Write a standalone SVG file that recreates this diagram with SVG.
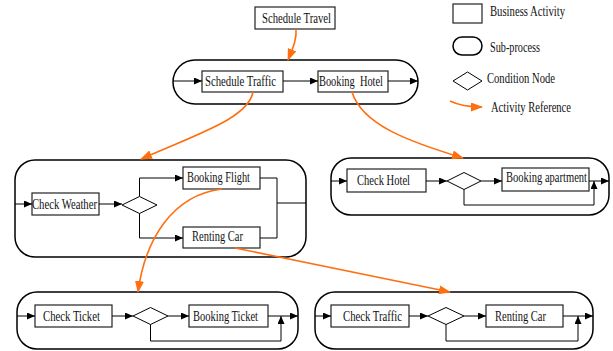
<svg xmlns="http://www.w3.org/2000/svg" width="613" height="351" viewBox="0 0 613 351">
  <defs>
    <marker id="arr" viewBox="0 0 8 7" refX="8" refY="3.5" markerWidth="8" markerHeight="7" markerUnits="userSpaceOnUse" orient="auto">
      <path d="M0,0 L8,3.5 L0,7 z" fill="#000"/>
    </marker>
    <marker id="ref" viewBox="0 0 12 9" refX="11" refY="4.5" markerWidth="12" markerHeight="9" markerUnits="userSpaceOnUse" orient="auto">
      <path d="M0,0 L12,4.5 L0,9 z" fill="#ff6f0f"/>
    </marker>
  </defs>
  <style>
    text { font-family: "Liberation Serif", "Times New Roman", serif; font-size: 14px; fill: #111; }
    .act { fill: #fff; stroke: #222; stroke-width: 1.2; }
    .sub { fill: none; stroke: #000; stroke-width: 1.5; }
    .cond { fill: #fff; stroke: #000; stroke-width: 1; }
    .flow { fill: none; stroke: #000; stroke-width: 1; }
    .flow.a { marker-end: url(#arr); }
    .ref { fill: none; stroke: #ff6f0f; stroke-width: 1.6; marker-end: url(#ref); }
  </style>

  <!-- legend -->
  <g id="legend">
    <rect class="act" x="453" y="4" width="29" height="19"/>
    <text x="490" y="16" textLength="75" lengthAdjust="spacingAndGlyphs">Business Activity</text>
    <rect class="sub" x="453" y="37" width="29" height="18" rx="9"/>
    <text x="490" y="52" textLength="50" lengthAdjust="spacingAndGlyphs">Sub-process</text>
    <polygon class="cond" points="453,81 467.5,72 482,81 467.5,90"/>
    <text x="487" y="83" textLength="68" lengthAdjust="spacingAndGlyphs">Condition Node</text>
    <path class="ref" d="M450,101 Q462,107 482,107"/>
    <text x="491" y="112" textLength="80" lengthAdjust="spacingAndGlyphs">Activity Reference</text>
  </g>

  <!-- top level -->
  <g id="schedule-travel">
    <rect class="act" x="255" y="7" width="80" height="22"/>
    <text x="262" y="23" textLength="69" lengthAdjust="spacingAndGlyphs">Schedule Travel</text>
  </g>
  <g id="sp-travel">
    <rect class="sub" x="173" y="60" width="245" height="44" rx="22"/>
  </g>
  <g id="schedule-traffic">
    <rect class="act" x="202" y="71" width="81" height="21"/>
    <text x="205" y="86" textLength="71" lengthAdjust="spacingAndGlyphs">Schedule Traffic</text>
  </g>
  <g id="booking-hotel">
    <rect class="act" x="318" y="71" width="70" height="21"/>
    <text x="319" y="86" textLength="64" lengthAdjust="spacingAndGlyphs" xml:space="preserve">Booking  Hotel</text>
  </g>

  <!-- traffic sub-process -->
  <g id="sp-traffic">
    <rect class="sub" x="15" y="160" width="291" height="97" rx="20"/>
  </g>
  <g id="check-weather">
    <rect class="act" x="32" y="193" width="67" height="22"/>
    <text x="32" y="209" textLength="65" lengthAdjust="spacingAndGlyphs">Check Weather</text>
  </g>
  <g id="cond-weather">
    <polygon class="cond" points="122,205 139.5,196.5 157,205 139.5,213.5"/>
  </g>
  <g id="booking-flight">
    <rect class="act" x="183" y="167" width="77" height="22"/>
    <text x="187" y="182" textLength="63" lengthAdjust="spacingAndGlyphs">Booking Flight</text>
  </g>
  <g id="renting-car-1">
    <rect class="act" x="183" y="227" width="77" height="21"/>
    <text x="192" y="241" textLength="51" lengthAdjust="spacingAndGlyphs">Renting Car</text>
  </g>

  <!-- hotel sub-process -->
  <g id="sp-hotel">
    <rect class="sub" x="331" y="158" width="278" height="57" rx="20"/>
  </g>
  <g id="check-hotel">
    <rect class="act" x="347" y="169" width="79" height="23"/>
    <text x="357" y="185" textLength="53" lengthAdjust="spacingAndGlyphs">Check Hotel</text>
  </g>
  <g id="cond-hotel">
    <polygon class="cond" points="447,181 464,172.5 481,181 464,189.5"/>
  </g>
  <g id="booking-apartment">
    <rect class="act" x="502" y="168" width="87" height="23"/>
    <text x="506" y="182" textLength="81" lengthAdjust="spacingAndGlyphs">Booking apartment</text>
  </g>

  <!-- flight sub-process -->
  <g id="sp-flight">
    <rect class="sub" x="17" y="292" width="281" height="57" rx="20"/>
  </g>
  <g id="check-ticket">
    <rect class="act" x="35" y="305" width="77" height="22"/>
    <text x="43" y="321" textLength="57" lengthAdjust="spacingAndGlyphs">Check Ticket</text>
  </g>
  <g id="cond-ticket">
    <polygon class="cond" points="133,316 150.5,307.5 168,316 150.5,324.5"/>
  </g>
  <g id="booking-ticket">
    <rect class="act" x="189" y="305" width="79" height="22"/>
    <text x="193" y="321" textLength="65" lengthAdjust="spacingAndGlyphs">Booking Ticket</text>
  </g>

  <!-- car sub-process -->
  <g id="sp-car">
    <rect class="sub" x="315" y="292" width="278" height="57" rx="20"/>
  </g>
  <g id="check-traffic">
    <rect class="act" x="331" y="305" width="78" height="22"/>
    <text x="343" y="321" textLength="59" lengthAdjust="spacingAndGlyphs">Check Traffic</text>
  </g>
  <g id="cond-traffic">
    <polygon class="cond" points="428,316 446,307.5 464,316 446,324.5"/>
  </g>
  <g id="renting-car-2">
    <rect class="act" x="486" y="305" width="77" height="22"/>
    <text x="495" y="321" textLength="51" lengthAdjust="spacingAndGlyphs">Renting Car</text>
  </g>

  <!-- connectors -->
  <g id="connectors">
    <!-- travel -->
    <path class="flow a" d="M173,81 H202"/>
    <path class="flow a" d="M283,81 H318"/>
    <path class="flow a" d="M388,81 H418"/>
    <!-- traffic -->
    <path class="flow a" d="M15,204 H32"/>
    <path class="flow a" d="M99,204 H122"/>
    <path class="flow a" d="M139.5,196.5 V178 H183"/>
    <path class="flow a" d="M139.5,213.5 V238 H183"/>
    <path class="flow" d="M260,178 H277 V238 H260"/>
    <path class="flow" d="M277,203 H306"/>
    <!-- hotel -->
    <path class="flow a" d="M331,181 H347"/>
    <path class="flow a" d="M426,181 H447"/>
    <path class="flow a" d="M481,181 H502"/>
    <path class="flow a" d="M589,181 H609"/>
    <path class="flow a" d="M464,189.5 V205 H594 V181"/>
    <!-- flight -->
    <path class="flow a" d="M17,316 H35"/>
    <path class="flow a" d="M112,316 H133"/>
    <path class="flow a" d="M168,316 H189"/>
    <path class="flow a" d="M268,316 H298"/>
    <path class="flow a" d="M150.5,324.5 V341 H281 V316"/>
    <!-- car -->
    <path class="flow a" d="M315,316 H331"/>
    <path class="flow a" d="M409,316 H428"/>
    <path class="flow a" d="M464,316 H486"/>
    <path class="flow a" d="M563,316 H593"/>
    <path class="flow a" d="M446,324.5 V341 H578 V316"/>
    <!-- activity references -->
    <path class="ref" d="M296,29 C297,40 292,50 288,60"/>
    <path class="ref" d="M253,92 C248,118 200,133 141,159"/>
    <path class="ref" d="M352,92 C362,125 410,142 463,158"/>
    <path class="ref" d="M222,189 C172,195 145,240 138,292"/>
    <path class="ref" d="M235,248 L450,292"/>
  </g>
</svg>
